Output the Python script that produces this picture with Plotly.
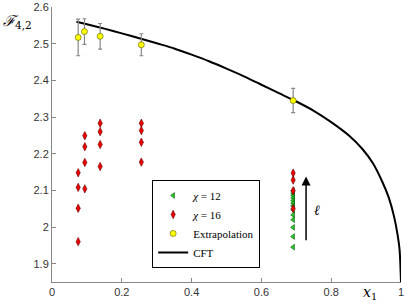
import plotly.graph_objects as go

# CFT curve
cft_x = [0.07, 0.10, 0.15, 0.20, 0.25, 0.30, 0.35, 0.40, 0.45, 0.50, 0.55, 0.60, 0.65, 0.69,
         0.75, 0.80, 0.85, 0.89, 0.92, 0.947, 0.965, 0.98, 0.99, 0.996, 1.0]
cft_y = [2.560, 2.553, 2.541, 2.528, 2.515, 2.501, 2.487, 2.470, 2.452, 2.432, 2.411, 2.388, 2.365, 2.347,
         2.317, 2.286, 2.250, 2.212, 2.173, 2.122, 2.080, 2.029, 1.980, 1.938, 1.85]

# Extrapolation with error bars
ext_x = [0.075, 0.093, 0.138, 0.256, 0.691]
ext_y = [2.517, 2.533, 2.520, 2.497, 2.345]
ext_err = [0.050, 0.035, 0.035, 0.030, 0.033]

# chi = 16 data (red diamonds)
chi16_x = [0.075]*4 + [0.094]*4 + [0.138]*4 + [0.256]*4 + [0.691]*4
chi16_y = [2.148, 2.108, 2.051, 1.960,
           2.249, 2.219, 2.176, 2.104,
           2.283, 2.260, 2.225, 2.165,
           2.283, 2.263, 2.231, 2.177,
           2.147, 2.128, 2.099, 2.050]

# chi = 12 data (green triangles)
chi12_y = [2.099, 2.092, 2.086, 2.079, 2.072, 2.065, 2.058, 2.047, 2.033, 2.020, 1.999, 1.974, 1.945]
chi12_x = [0.691]*len(chi12_y)

x_ticks = [0, 0.2, 0.4, 0.6, 0.8, 1]
x_ticklabels = ["0", "0.2", "0.4", "0.6", "0.8", "1"]
y_ticks = [1.9, 2.0, 2.1, 2.2, 2.3, 2.4, 2.5, 2.6]
y_ticklabels = ["1.9", "2", "2.1", "2.2", "2.3", "2.4", "2.5", "2.6"]

fig = go.Figure()

fig.add_trace(go.Scatter(
    x=cft_x, y=cft_y, mode="lines", name="CFT",
    line=dict(color="black", width=2, shape="spline", smoothing=0.6), legendrank=4))

fig.add_trace(go.Scatter(
    x=chi12_x, y=chi12_y, mode="markers", name="<i>χ</i> = 12",
    marker=dict(symbol="triangle-left", size=5, color="#22cc22",
                line=dict(color="#115511", width=0.6)), legendrank=1))

fig.add_trace(go.Scatter(
    x=chi16_x, y=chi16_y, mode="markers", name="<i>χ</i> = 16",
    marker=dict(symbol="diamond-tall", size=6, color="#ee0000",
                line=dict(color="#660000", width=0.6)), legendrank=2))

fig.add_trace(go.Scatter(
    x=ext_x, y=ext_y, mode="markers", name="Extrapolation",
    error_y=dict(type="data", array=ext_err, visible=True, color="#888888",
                 thickness=1.2, width=2),
    marker=dict(symbol="circle", size=6, color="#ffff00",
                line=dict(color="#555500", width=0.6)), legendrank=3))

axis_font = dict(family="Liberation Sans, Arial, sans-serif", size=11, color="#333333")

fig.update_layout(
    width=405, height=306,
    margin=dict(l=52, r=4, t=7, b=24, autoexpand=False),
    paper_bgcolor="white", plot_bgcolor="white",
    showlegend=True,
    legend=dict(x=0.287, y=0.371, xanchor="left", yanchor="top",
                bordercolor="black", borderwidth=1, bgcolor="white",
                font=dict(family="Liberation Serif, DejaVu Serif, serif", size=11, color="black"),
                tracegroupgap=1, itemwidth=30),
    xaxis=dict(range=[0, 1], tickvals=x_ticks, ticktext=x_ticklabels, automargin=False,
               showgrid=False, zeroline=False, showline=True, linecolor="#888888",
               linewidth=1, ticks="inside", ticklen=4, tickcolor="#888888",
               tickfont=axis_font, mirror=False),
    yaxis=dict(range=[1.85, 2.6], tickvals=y_ticks, ticktext=y_ticklabels, automargin=False,
               showgrid=False, zeroline=False, showline=True, linecolor="#888888",
               linewidth=1, ticks="inside", ticklen=4, tickcolor="#888888",
               tickfont=axis_font, mirror=False),
)

# Arrow with ell label
fig.add_annotation(x=0.728, y=2.138, ax=0.728, ay=1.96, xref="x", yref="y",
                   axref="x", ayref="y", showarrow=True, arrowhead=2,
                   arrowsize=1.2, arrowwidth=1.5, arrowcolor="black", text="")
fig.add_annotation(x=0.759, y=2.047, xref="x", yref="y", text="<i>ℓ</i>",
                   showarrow=False,
                   font=dict(family="DejaVu Serif, serif", size=14, color="black"))

# Axis labels
fig.add_annotation(xref="paper", yref="paper", x=-0.145, y=0.99, xanchor="left", yanchor="top",
                   text="<i>ℱ</i><sub>4,2</sub>", showarrow=False,
                   font=dict(family="DejaVu Serif, serif", size=15, color="black"))
fig.add_annotation(xref="paper", yref="paper", x=0.91, y=-0.04, xanchor="center", yanchor="middle",
                   text="<i>x</i><sub>1</sub>", showarrow=False,
                   font=dict(family="DejaVu Serif, serif", size=14, color="black"))

fig.write_html("out.html", config={"displayModeBar": False},
               post_script="document.body.style.margin='0';document.body.style.overflow='hidden';")
